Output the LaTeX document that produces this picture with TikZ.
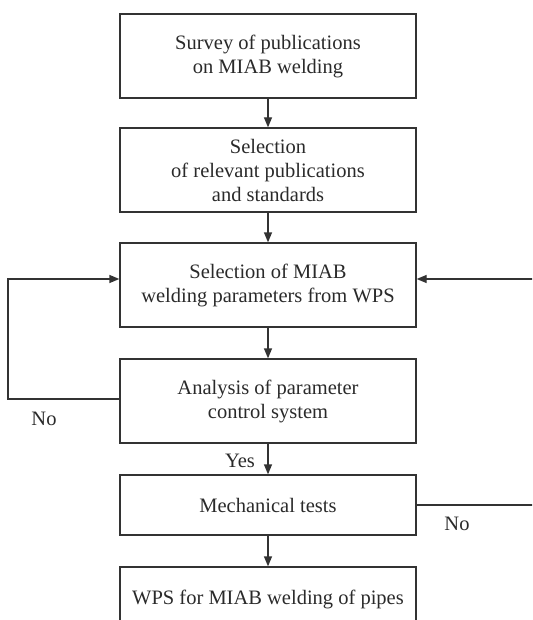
\documentclass[tikz,border=0pt]{standalone}
\usepackage{fontspec}
\setmainfont{Liberation Serif}
\usetikzlibrary{arrows.meta}
\definecolor{linec}{HTML}{333333}
\definecolor{textc}{HTML}{2A2A2A}
\begin{document}
\begin{tikzpicture}[x=1pt,y=-1pt,
  box/.style={draw=linec,line width=1.3pt,rectangle,minimum width=296pt,align=center,inner sep=0pt,text=textc,font=\fontsize{20.5}{24}\selectfont},
  lbl/.style={text=textc,font=\fontsize{20.5}{24}\selectfont,inner sep=0pt},
  conn/.style={draw=linec,line width=1.3pt},
  arr/.style={conn,-{Triangle[length=10pt,width=8pt]}}]
\useasboundingbox (0,0) rectangle (532,620);
\clip (0,0) rectangle (532,620);
\node[box,minimum height=84pt] (b1) at (268,56) {Survey of publications\\on MIAB welding};
\node[box,minimum height=84pt] (b2) at (268,170) {Selection\\of relevant publications\\and standards};
\node[box,minimum height=84pt] (b3) at (268,285) {Selection of MIAB\\welding parameters from WPS};
\node[box,minimum height=84pt] (b4) at (268,401) {Analysis of parameter\\control system};
\node[box,minimum height=60pt] (b5) at (268,505) {Mechanical tests};
\node[box,minimum height=64pt] (b6) at (268,599) {WPS for MIAB welding of pipes};
\coordinate (L) at (8,0);
\coordinate (R) at (540,0);
\draw[arr] (b1) -- (b2);
\draw[arr] (b2) -- (b3);
\draw[arr] (b3) -- (b4);
\draw[arr] (b4) -- (b5);
\draw[arr] (b5) -- (b6);
\draw[arr] ([yshift=2pt]b4.west) -- ([yshift=2pt]b4.west -| L) |- ([yshift=6pt]b3.west);
\draw[arr] (b5.east) -- (b5.east -| R) |- ([yshift=6pt]b3.east);
\node[lbl] (no1) at (44,419) {No};
\node[lbl] (yes) at (240,461) {Yes};
\node[lbl] (no2) at (457,524) {No};
\end{tikzpicture}
\end{document}
